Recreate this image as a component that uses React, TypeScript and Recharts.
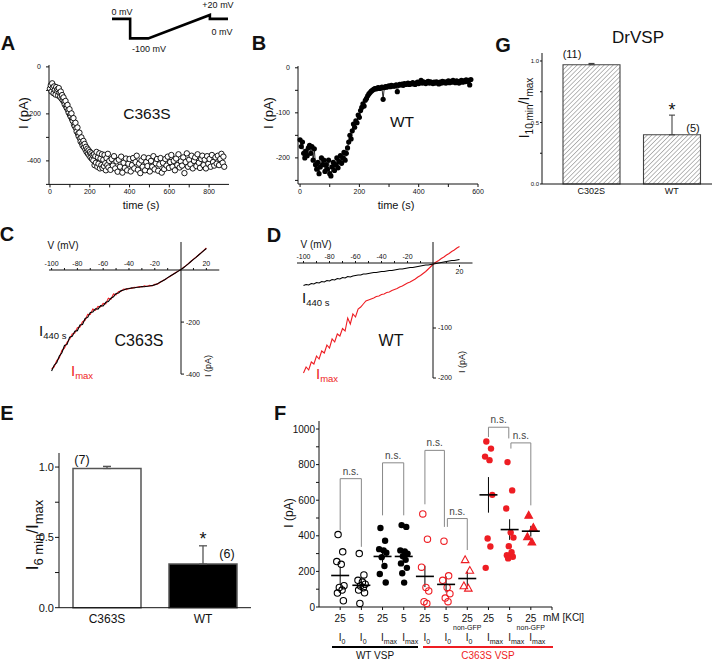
import React from 'react';
import {
  ScatterChart, Scatter, LineChart, Line, BarChart, Bar, ComposedChart,
  XAxis, YAxis, ErrorBar, Cell, ReferenceDot,
} from 'recharts';

const FONT = '"Liberation Sans", Arial, Helvetica, sans-serif';
const RED = '#ee1d23';
const INK = '#111';

// ---------- data ----------
// voltage protocol (schematic): time (ms), voltage (mV)
const protoTime = [0, 50, 50, 100, 270, 270, 320];
const protoMv = [0, 0, -100, -100, 20, 0, 0];

// A: C363S, current at -100 mV vs time [s, pA]
const aTrace: [number, number][] = [
  [0,-92],[4,-78],[8,-105],[11,-70],[14,-88],[18,-112],[21,-83],[24,-98],[28,-118],[31,-86],[34,-102],[38,-95],
  [41,-122],[44,-90],[48,-110],[51,-128],[54,-105],[58,-135],[61,-120],[64,-142],[68,-130],[71,-150],[74,-160],
  [78,-145],[81,-168],[84,-175],[88,-162],[91,-185],[94,-195],[98,-180],[101,-205],[104,-212],[108,-198],[111,-222],
  [114,-230],[118,-218],[121,-245],[124,-252],[128,-238],[131,-262],[134,-275],[138,-258],[141,-285],[144,-295],
  [148,-280],[151,-305],[154,-318],[158,-300],[161,-325],[164,-335],[168,-315],[171,-342],[174,-328],[178,-352],
  [181,-340],[184,-362],[188,-348],[191,-370],[194,-355],[198,-378],[201,-362],[204,-385],[208,-368],[211,-392],
  [214,-375],[218,-398],[221,-372],[224,-418],[228,-380],[231,-408],[234,-362],[238,-425],[241,-385],[244,-412],
  [248,-368],[251,-432],[254,-390],[258,-418],[261,-372],[264,-430],[268,-395],[271,-422],[274,-375],[278,-410],
  [281,-440],[284,-388],[288,-418],[291,-370],[294,-428],[298,-400],[304,-438],[310,-392],[316,-420],[322,-380],
  [328,-432],[334,-402],[340,-446],[346,-395],[352,-425],[358,-382],[364,-450],[370,-408],[376,-430],[382,-390],
  [388,-440],[394,-412],[400,-392],[406,-445],[412,-418],[418,-388],[424,-432],[430,-405],[436,-378],[442,-438],
  [448,-412],[454,-452],[460,-398],[466,-425],[472,-385],[478,-440],[484,-405],[490,-422],[496,-388],[502,-445],
  [508,-400],[514,-425],[520,-380],[526,-436],[532,-410],[538,-392],[544,-442],[550,-415],[556,-388],[562,-450],
  [568,-408],[574,-435],[580,-392],[586,-420],[592,-382],[598,-430],[604,-405],[610,-375],[616,-425],[622,-400],
  [628,-440],[634,-390],[640,-418],[646,-372],[652,-428],[658,-402],[664,-420],[670,-385],[676,-452],[682,-405],
  [688,-368],[694,-425],[700,-395],[706,-415],[712,-378],[718,-432],[724,-400],[730,-385],[736,-422],[742,-372],
  [748,-408],[754,-430],[760,-392],[766,-378],[772,-418],[778,-395],[784,-432],[790,-380],[796,-412],[802,-392],
  [808,-425],[814,-375],[820,-405],[826,-420],[832,-385],[838,-412],[844,-378],[850,-418],[856,-392],[862,-370],
  [868,-408],[872,-382],[876,-425],
];

// B: WT, current at -100 mV vs time [s, pA]
const bTrace: [number, number][] = [
  [0,-160],[4,-175],[8,-165],[12,-190],[16,-200],[20,-185],[24,-195],[28,-178],[32,-172],[36,-190],[40,-175],
  [44,-205],[48,-180],[52,-215],[56,-225],[60,-210],[64,-235],[68,-220],[72,-200],[76,-215],[80,-205],[84,-230],
  [88,-215],[92,-225],[96,-205],[100,-235],[104,-240],[108,-220],[112,-210],[116,-228],[120,-215],[124,-200],
  [128,-222],[132,-208],[136,-195],[140,-212],[144,-200],[148,-188],[152,-205],[156,-190],[160,-178],[164,-165],
  [168,-150],[172,-158],[176,-140],[180,-125],[184,-132],[188,-118],[192,-122],[196,-105],[200,-110],[204,-95],
  [208,-88],[212,-80],[216,-85],[220,-72],[224,-68],[228,-62],[232,-58],[236,-55],[240,-52],[244,-50],[248,-48],
  [252,-46],[256,-47],[260,-45],[264,-44],[268,-46],[272,-45],[276,-43],[280,-70],[284,-44],[288,-42],[292,-43],
  [296,-41],[300,-40],[304,-42],[308,-39],[312,-40],[316,-41],[320,-40],[324,-38],[328,-53],[332,-39],[336,-37],
  [340,-38],[344,-36],[348,-39],[352,-35],[356,-37],[360,-36],[364,-34],[368,-37],[372,-35],[376,-36],[380,-33],
  [384,-35],[388,-37],[392,-34],[396,-32],[400,-35],[404,-33],[408,-28],[412,-34],[416,-31],[420,-33],[424,-35],
  [428,-32],[432,-30],[436,-34],[440,-31],[444,-33],[448,-35],[452,-32],[456,-34],[460,-31],[464,-33],[468,-36],
  [472,-32],[476,-34],[480,-30],[484,-33],[488,-31],[492,-34],[496,-32],[500,-29],[504,-33],[508,-30],[512,-32],
  [516,-28],[520,-31],[524,-33],[528,-29],[532,-31],[536,-34],[540,-30],[544,-28],[548,-32],[552,-29],[556,-31],
  [560,-27],[564,-30],[568,-28],[572,-38],[576,-26],
];

// C: C363S I-V [mV, I 440 s, I max]
const cIV: [number, number, number][] = [
  [-100,-388,-380],[-98,-366,-372],[-96,-356,-348],[-94,-331,-338],[-92,-318,-309],[-90,-290,-300],
  [-88,-286,-278],[-86,-258,-266],[-84,-255,-246],[-82,-235,-242],[-80,-233,-222],[-78,-211,-219],
  [-76,-209,-198],[-74,-186,-193],[-72,-182,-170],[-70,-163,-171],[-68,-161,-150],[-66,-149,-155],
  [-64,-150,-140],[-62,-137,-142],[-60,-138,-128],[-58,-124,-130],[-56,-121,-108],[-54,-108,-112],
  [-52,-103,-92],[-50,-90,-95],[-48,-88,-82],[-46,-79,-81],[-44,-77,-73],[-42,-72,-75],[-40,-72,-70],
  [-38,-68,-71],[-36,-69,-66],[-34,-66,-67],[-32,-66,-63],[-30,-63,-65],[-28,-64,-61],[-26,-62,-63],
  [-24,-61,-59],[-22,-59,-61],[-20,-57,-55],[-18,-53,-54],[-16,-47,-48],[-14,-42,-41],[-12,-36,-36],
  [-10,-29,-30],[-8,-23,-24],[-6,-17,-17],[-4,-11,-10],[-2,-5,-4],[0,1,1],[2,8,9],[4,16,16],[6,24,25],
  [8,33,33],[10,41,42],[12,49,50],[14,58,58],[16,66,67],[18,75,76],[20,83,85],
];

// D: WT I-V [mV, I 440 s, I max]
const dIV: [number, number, number][] = [
  [-100,-15,-190],[-98,-13,-178],[-96,-14,-184],[-94,-11,-168],[-92,-12,-172],[-90,-9,-156],[-88,-10,-162],
  [-86,-7,-146],[-84,-8,-150],[-82,-5,-134],[-80,-6,-140],[-78,-3,-122],[-76,-4,-128],[-74,-1,-112],
  [-72,-2,-116],[-70,1,-101],[-68,0,-106],[-66,3,-80],[-64,2,-92],[-62,4,-72],[-60,5,-78],[-58,6,-62],
  [-56,6,-58],[-54,8,-52],[-52,8,-46],[-50,9,-44],[-48,10,-42],[-46,11,-40],[-44,11,-37],[-42,12,-36],
  [-40,13,-33],[-38,13,-32],[-36,14,-29],[-34,15,-28],[-32,15,-25],[-30,16,-23],[-28,17,-21],[-26,18,-18],
  [-24,18,-16],[-22,19,-13],[-20,20,-10],[-18,21,-8],[-16,21,-5],[-14,22,-2],[-12,23,2],[-10,24,5],
  [-8,25,9],[-6,26,13],[-4,26,18],[-2,27,23],[0,28,28],[2,29,32],[4,30,35],[6,31,39],[8,32,42],[10,33,46],
  [12,34,49],[14,35,53],[16,35,56],[18,36,60],[20,37,63],
];

// E: I 6 min / I max
const eGroups = ['C363S', 'WT'];
const eRatio = [0.99, 0.31];
const eSem = [0.015, 0.13];

// G: I 10 min / I max (DrVSP)
const gGroups = ['C302S', 'WT'];
const gRatio = [0.97, 0.4];
const gSem = [0.01, 0.16];

// F: currents per condition
const fKcl = ['25', '5', '25', '5', '25', '5', '25', '25', '5', '25'];
const fCurrent = ['0', '0', 'max', 'max', '0', '0', '0', 'max', 'max', 'max'];
const fNonGfp = [false, false, false, false, false, false, true, false, false, true];
const fPoints: number[][] = [
  [407, 310, 255, 240, 120, 110, 95, 78, 35],
  [300, 180, 150, 140, 128, 118, 108, 95, 80, 20],
  [444, 372, 325, 318, 305, 280, 230, 185, 138],
  [460, 450, 318, 312, 300, 285, 265, 245, 220, 190, 137],
  [523, 381, 224, 110, 90, 30, 20],
  [370, 175, 150, 110, 75, 50, 30],
  [265, 205, 118, 105],
  [930, 890, 845, 825, 630, 385, 340, 220],
  [814, 655, 553, 418, 390, 342, 308, 291, 282, 273],
  [515, 446, 394, 364],
];
const fMean = [177, 122, 284, 284, 172, 127, 160, 630, 435, 426];
const fSem = [50, 27, 35, 35, 60, 45, 40, 100, 58, 30];
// [left cond, right cond, top, left leg end, right leg end]
const fBrackets: [number, number, number, number, number][] = [
  [1, 2, 721, 430, 338],
  [3, 4, 810, 515, 515],
  [5, 5.92, 880, 577, 450],
  [6.06, 7, 497, 450, 320],
  [8, 8.96, 1010, 955, 947],
  [9.06, 10, 922, 890, 571],
];

// ---------- helpers ----------
function place(x0: number, y0: number, x1: number, y1: number, o: any = {}) {
  const { l = 0, r = 0, t = 0, b = 0, pad = 10 } = o;
  return {
    style: { position: 'absolute' as const, left: x0 - l - pad, top: y0 - t - pad },
    width: x1 - x0 + l + r + 2 * pad,
    height: y1 - y0 + t + b + 2 * pad,
    margin: { top: pad, right: pad, bottom: pad, left: pad },
  };
}

function Txt({ x, y, size = 10, color = INK, bold = false, anchor = 'middle', rotate = 0, children }: any) {
  const tx = anchor === 'middle' ? '-50%' : anchor === 'end' ? '-100%' : '0';
  return (
    <div
      style={{
        position: 'absolute', left: x, top: y, fontSize: size, color, lineHeight: 1,
        fontWeight: bold ? 700 : 400, whiteSpace: 'nowrap',
        transform: `translate(${tx}, -50%)${rotate ? ` rotate(${rotate}deg)` : ''}`,
      }}
    >
      {children}
    </div>
  );
}

const Sub = ({ s, children }: any) => (
  <span style={{ fontSize: s, position: 'relative', top: '0.35em' }}>{children}</span>
);

const tickStyle = (size: number) => ({ fontSize: size, fill: INK, stroke: 'none' });
// label only the major ticks; the others stay as plain marks
const every = (step: number, digits = 0) => (v: number) =>
  Math.abs(v / step - Math.round(v / step)) < 1e-6 ? v.toFixed(digits) : '';

// ---------- protocol ----------
function Protocol() {
  const data = protoTime.map((t, i) => ({ t, v: protoMv[i] }));
  const f = place(112, 13.6, 228, 39);
  return (
    <div style={f.style}>
      <LineChart width={f.width} height={f.height} margin={f.margin} data={data}>
        <XAxis hide type="number" dataKey="t" domain={[0, 320]} />
        <YAxis hide type="number" domain={[-105, 25]} />
        <Line type="linear" dataKey="v" stroke="#000" strokeWidth={2.6} dot={false} isAnimationActive={false} />
      </LineChart>
    </div>
  );
}

// ---------- A ----------
const openDot = (p: any) => (
  <circle cx={p.cx} cy={p.cy} r={2.7} fill="#fff" stroke="#000" strokeWidth={0.9} />
);

function PanelA() {
  const f = place(49, 65.1, 229, 184.5, { l: 30, b: 16 });
  const data = aTrace.map(([t, i]) => ({ t, i }));
  return (
    <div style={f.style}>
      <ScatterChart width={f.width} height={f.height} margin={f.margin}>
        <XAxis type="number" dataKey="t" domain={[-5, 900]} ticks={[0, 100, 200, 300, 400, 500, 600, 700, 800]}
          tickFormatter={every(200)} interval={0} height={16}
          tickSize={3} tickMargin={2} tick={tickStyle(7)} stroke={INK} />
        <YAxis type="number" dataKey="i" domain={[-500, 8]} ticks={[0, -100, -200, -300, -400, -500]}
          tickFormatter={every(200)} interval={0} width={30}
          tickSize={3} tickMargin={5} tick={tickStyle(7)} stroke={INK} />
        <Scatter data={data} shape={openDot} isAnimationActive={false} />
      </ScatterChart>
    </div>
  );
}

// ---------- B ----------
function PanelB() {
  const f = place(298, 66, 478, 184, { l: 30, b: 16 });
  const data = bTrace.map(([t, i]) => ({ t, i }));
  return (
    <div style={f.style}>
      <LineChart width={f.width} height={f.height} margin={f.margin} data={data}>
        <XAxis type="number" dataKey="t" domain={[-7, 600]} ticks={[0, 100, 200, 300, 400, 500, 600]}
          tickFormatter={every(200)} interval={0} height={16}
          tickSize={3} tickMargin={2} tick={tickStyle(7)} stroke={INK} />
        <YAxis type="number" domain={[-258, 4]} ticks={[0, -50, -100, -150, -200, -250]}
          tickFormatter={every(100)} interval={0} width={30}
          tickSize={3} tickMargin={5} tick={tickStyle(7)} stroke={INK} />
        <Line type="linear" dataKey="i" stroke="#000" strokeWidth={0.8}
          dot={{ r: 2.6, fill: '#000', stroke: '#000', strokeWidth: 0 }} isAnimationActive={false} />
      </LineChart>
    </div>
  );
}

// ---------- C / D (I-V) ----------
function IVPanel({ rows, vDom, iDom, zx, pxMv, zy, pxPa, vAxisAt, iTicks, below20 }: any) {
  const X = (v: number) => zx + pxMv * v;
  const Y = (i: number) => zy - pxPa * i;
  const data = rows.map(([v, k, m]: number[]) => ({ v, k, m }));
  const fd = place(X(vDom[0]), Y(iDom[1]), X(vDom[1]), Y(iDom[0]));
  const fv = place(X(vDom[0]), Y(vAxisAt), X(vDom[1]), Y(vAxisAt) + 2, { t: 14, b: 12 });
  const fi = place(X(0) - 8, Y(iDom[1]), X(0), Y(iDom[0]), { r: 30 });
  const topTicks = below20
    ? [-100, -90, -80, -70, -60, -50, -40, -30, -20, -10, 10]
    : [-100, -90, -80, -70, -60, -50, -40, -30, -20, -10, 10, 20];
  return (
    <>
      <div style={fd.style}>
        <LineChart width={fd.width} height={fd.height} margin={fd.margin} data={data}>
          <XAxis hide type="number" dataKey="v" domain={vDom} />
          <YAxis hide type="number" domain={iDom} />
          <Line type="linear" dataKey="m" stroke={RED} strokeWidth={1.1} dot={false} isAnimationActive={false} />
          <Line type="linear" dataKey="k" stroke="#000" strokeWidth={1.1} dot={false} isAnimationActive={false} />
        </LineChart>
      </div>
      <div style={fv.style}>
        <ScatterChart width={fv.width} height={fv.height} margin={fv.margin}>
          <XAxis xAxisId="top" orientation="top" type="number" dataKey="v" domain={vDom} allowDataOverflow
            ticks={topTicks} height={14} tickSize={2} tickMargin={2} tickFormatter={every(20)} tick={tickStyle(7)}
            stroke={INK} interval={0} />
          <XAxis xAxisId="bot" orientation="bottom" type="number" dataKey="v" domain={vDom} allowDataOverflow
            ticks={below20 ? [20] : []} height={12} tickSize={2} tickMargin={2} axisLine={false}
            tick={tickStyle(7)} stroke={INK} interval={0} />
          <YAxis hide type="number" dataKey="k" domain={[0, 1]} allowDataOverflow />
          <Scatter xAxisId="top" data={data} shape={() => <g />} isAnimationActive={false} />
          <Scatter xAxisId="bot" data={data} shape={() => <g />} isAnimationActive={false} />
        </ScatterChart>
      </div>
      <div style={fi.style}>
        <LineChart width={fi.width} height={fi.height} margin={fi.margin}>
          <XAxis hide type="number" domain={[0, 1]} allowDataOverflow />
          <YAxis orientation="right" type="number" domain={iDom} allowDataOverflow ticks={iTicks} width={30}
            tickSize={3} tickMargin={2} tick={tickStyle(7)} stroke={INK} interval={0} />
        </LineChart>
      </div>
    </>
  );
}

// ---------- E ----------
function PanelE() {
  const data = eGroups.map((g, i) => ({ g, v: eRatio[i], e: [0, eSem[i]] }));
  const fills = ['#fff', '#000'];
  const f = place(59, 452.6, 251, 607.3, { l: 30, b: 22 });
  return (
    <div style={f.style}>
      <BarChart width={f.width} height={f.height} margin={f.margin} data={data} barCategoryGap={0}>
        <XAxis dataKey="g" tickSize={0} tickMargin={7} tick={tickStyle(12)} stroke={INK} height={22} />
        <YAxis type="number" domain={[0, 1.1]} ticks={[0, 0.25, 0.5, 0.75, 1]} tickFormatter={every(0.5, 1)}
          interval={0} width={30} tickSize={4} tickMargin={1} tick={tickStyle(11)} stroke={INK} />
        <Bar dataKey="v" barSize={68} stroke="#555" strokeWidth={1.5} isAnimationActive={false}>
          {data.map((d, i) => <Cell key={d.g} fill={fills[i]} />)}
          <ErrorBar dataKey="e" direction="y" width={4} stroke="#555" strokeWidth={1.3} />
        </Bar>
      </BarChart>
    </div>
  );
}

// ---------- G ----------
function PanelG() {
  const data = gGroups.map((g, i) => ({ g, v: gRatio[i], e: [0, gSem[i]] }));
  const f = place(542, 53, 712, 184, { l: 24, b: 16 });
  return (
    <div style={f.style}>
      <BarChart width={f.width} height={f.height} margin={f.margin} data={data} barCategoryGap={0}>
        <defs>
          <pattern id="gHatch" width="3.2" height="3.2" patternUnits="userSpaceOnUse" patternTransform="rotate(45)">
            <rect width="3.2" height="3.2" fill="#fff" />
            <line x1="0" y1="0" x2="0" y2="3.2" stroke="#666" strokeWidth="0.9" />
          </pattern>
        </defs>
        <XAxis dataKey="g" tickSize={0} tickMargin={4} tick={tickStyle(9)} stroke={INK} height={16}
          padding={{ left: 9, right: 0 }} />
        <YAxis type="number" domain={[0, 1.065]} ticks={[0, 0.25, 0.5, 0.75, 1]} tickFormatter={every(0.5, 1)}
          interval={0} width={24} tickSize={2} tickMargin={1} tick={tickStyle(6)} stroke={INK} />
        <Bar dataKey="v" barSize={57} fill="url(#gHatch)" stroke="#444" strokeWidth={1.1} isAnimationActive={false}>
          <ErrorBar dataKey="e" direction="y" width={3} stroke="#444" strokeWidth={1.1} />
        </Bar>
      </BarChart>
    </div>
  );
}

// ---------- F ----------
const JITTER = [-0.1, 0.12, -0.16, 0.05, 0.18, -0.04, 0.09, -0.13, 0.15, -0.07, 0.02];
const fStyle = [
  { k: 'o', filled: false, c: '#000' }, { k: 'o', filled: false, c: '#000' },
  { k: 'o', filled: true, c: '#000' }, { k: 'o', filled: true, c: '#000' },
  { k: 'o', filled: false, c: RED }, { k: 'o', filled: false, c: RED },
  { k: 't', filled: false, c: RED },
  { k: 'o', filled: true, c: RED }, { k: 'o', filled: true, c: RED },
  { k: 't', filled: true, c: RED },
];
const marker = (s: any) => (p: any) => {
  const { cx, cy } = p;
  if (s.k === 't') {
    return (
      <polygon points={`${cx},${cy - 4} ${cx - 3.8},${cy + 2.8} ${cx + 3.8},${cy + 2.8}`}
        fill={s.filled ? s.c : 'none'} stroke={s.c} strokeWidth={1.1} />
    );
  }
  return <circle cx={cx} cy={cy} r={3.2} fill={s.filled ? s.c : 'none'} stroke={s.c} strokeWidth={s.filled ? 0 : 1.1} />;
};
const meanMark = (p: any) => (
  <line x1={p.cx - 9} x2={p.cx + 9} y1={p.cy} y2={p.cy} stroke="#000" strokeWidth={1.6} />
);

const FTick = (p: any) => {
  const i = p.payload.value - 1;
  if (i < 0 || i >= fKcl.length) return <g />;
  return (
    <g>
      <text x={p.x} y={p.y + 9.5} textAnchor="middle" fontSize={10} fill={INK} stroke="none">{fKcl[i]}</text>
      {fNonGfp[i] && (
        <text x={p.x} y={p.y + 17.5} textAnchor="middle" fontSize={7} fill={INK} stroke="none">non-GFP</text>
      )}
      <text x={p.x - 1.5} y={p.y + 28.5} textAnchor="start" fontSize={10} fill={INK} stroke="none">
        I<tspan fontSize={7} dy={3} fill={INK}>{fCurrent[i]}</tspan>
      </text>
    </g>
  );
};

function PanelF() {
  const f = place(319, 421, 552, 607, { l: 30, b: 45 });
  const means = fMean.map((m, i) => ({ x: i + 1, y: m, sem: fSem[i] }));
  return (
    <div style={f.style}>
      <ComposedChart width={f.width} height={f.height} margin={f.margin}>
        <XAxis type="number" dataKey="x" domain={[0, 11]} ticks={[1, 2, 3, 4, 5, 6, 7, 8, 9, 10, 11]} interval={0}
          height={45} tickSize={3} tickMargin={2} tick={FTick} stroke={INK} />
        <YAxis type="number" dataKey="y" domain={[0, 1045]}
          ticks={[0, 100, 200, 300, 400, 500, 600, 700, 800, 900, 1000]} tickFormatter={every(200)} interval={0}
          width={30} tickSize={3} tickMargin={1} tick={tickStyle(10)} stroke={INK} />
        {fBrackets.map(([a, b, top, lb, rb], i) => (
          <Line key={`br${i}`} data={[{ x: a, y: lb }, { x: a, y: top }, { x: b, y: top }, { x: b, y: rb }]}
            dataKey="y" type="linear" stroke="#888" strokeWidth={1} dot={false} isAnimationActive={false} />
        ))}
        {fBrackets.map(([a, b, top], i) => (
          <ReferenceDot key={`ns${i}`} x={(a + b) / 2} y={top} r={1} fill="none" stroke="none"
            label={{ value: 'n.s.', position: 'top', fontSize: 10, fill: '#444', offset: 3 }} />
        ))}
        {fPoints.map((vals, g) => (
          <Scatter key={`g${g}`} data={vals.map((v, j) => ({ x: g + 1 + JITTER[j % JITTER.length], y: v }))}
            shape={marker(fStyle[g])} isAnimationActive={false} />
        ))}
        <Scatter data={means} shape={meanMark} isAnimationActive={false}>
          <ErrorBar dataKey="sem" direction="y" width={0} stroke="#000" strokeWidth={1} />
        </Scatter>
      </ComposedChart>
    </div>
  );
}

// ---------- page ----------
export default function App() {
  return (
    <div style={{ position: 'absolute', left: 0, top: 0, width: 713, height: 660, overflow: 'hidden',
      background: '#fff', fontFamily: FONT, color: INK }}>
      <Protocol />
      <PanelA />
      <PanelB />
      <PanelG />
      <IVPanel rows={cIV} vDom={[-102, 30]} iDom={[-400, 108]} zx={181} pxMv={1.29} zy={270} pxPa={0.26}
        vAxisAt={0} iTicks={[-200, -400]} below20={false} />
      <IVPanel rows={dIV} vDom={[-105, 30]} iDom={[-200, 72]} zx={433} pxMv={1.3} zy={278} pxPa={0.5}
        vAxisAt={30} iTicks={[-100, -200]} below20 />
      <PanelE />
      <PanelF />

      {/* panel letters */}
      <Txt x={8} y={43} size={20} bold>A</Txt>
      <Txt x={259} y={43} size={20} bold>B</Txt>
      <Txt x={503} y={45} size={20} bold>G</Txt>
      <Txt x={7} y={234} size={20} bold>C</Txt>
      <Txt x={274} y={235} size={20} bold>D</Txt>
      <Txt x={7} y={413} size={20} bold>E</Txt>
      <Txt x={280} y={413} size={20} bold>F</Txt>

      {/* protocol labels */}
      <Txt x={122} y={12} size={9}>0 mV</Txt>
      <Txt x={149} y={49} size={9}>-100 mV</Txt>
      <Txt x={218} y={5} size={9}>+20 mV</Txt>
      <Txt x={222} y={32} size={9}>0 mV</Txt>

      {/* A, B */}
      <Txt x={23} y={113} size={13} rotate={-90}>I (pA)</Txt>
      <Txt x={141} y={205} size={11}>time (s)</Txt>
      <Txt x={147} y={114} size={15.5}>C363S</Txt>
      <Txt x={268} y={113} size={13} rotate={-90}>I (pA)</Txt>
      <Txt x={396} y={205} size={11}>time (s)</Txt>
      <Txt x={402} y={122} size={15.5}>WT</Txt>

      {/* G */}
      <Txt x={638} y={37} size={17}>DrVSP</Txt>
      <Txt x={572} y={54} size={11}>(11)</Txt>
      <Txt x={693} y={128} size={11}>(5)</Txt>
      <Txt x={672} y={110} size={18}>*</Txt>
      <Txt x={524} y={108} size={14} rotate={-90}>I<Sub s={10}>10 min</Sub>/I<Sub s={10}>max</Sub></Txt>

      {/* C */}
      <Txt x={63} y={246} size={10}>V (mV)</Txt>
      <Txt x={39} y={330} size={15} anchor="start">I<Sub s={9.5}>440 s</Sub></Txt>
      <Txt x={71} y={370} size={15} anchor="start" color={RED}>I<Sub s={9.5}>max</Sub></Txt>
      <Txt x={139} y={341} size={16}>C363S</Txt>
      <Txt x={208} y={366} size={9} rotate={-90}>I (pA)</Txt>

      {/* D */}
      <Txt x={316} y={245} size={10}>V (mV)</Txt>
      <Txt x={302} y={297} size={15} anchor="start">I<Sub s={9.5}>440 s</Sub></Txt>
      <Txt x={316} y={373} size={15} anchor="start" color={RED}>I<Sub s={9.5}>max</Sub></Txt>
      <Txt x={391} y={341} size={16}>WT</Txt>
      <Txt x={462} y={362} size={9} rotate={-90}>I (pA)</Txt>

      {/* E */}
      <Txt x={32} y={535} size={17} rotate={-90}>I<Sub s={13}>6 min</Sub>/I<Sub s={13}>max</Sub></Txt>
      <Txt x={82} y={460} size={12.5}>(7)</Txt>
      <Txt x={227} y={554} size={12.5}>(6)</Txt>
      <Txt x={203} y={539} size={18}>*</Txt>

      {/* F */}
      <Txt x={289} y={513} size={12} rotate={-90}>I (pA)</Txt>
      <Txt x={543} y={618} size={10} anchor="start">mM [KCl]</Txt>
      <div style={{ position: 'absolute', left: 332, top: 646, width: 86, height: 1.5, background: '#000' }} />
      <div style={{ position: 'absolute', left: 423, top: 646, width: 130, height: 1.5, background: RED }} />
      <Txt x={375} y={656} size={10}>WT VSP</Txt>
      <Txt x={488} y={656} size={10} color={RED}>C363S VSP</Txt>
    </div>
  );
}
